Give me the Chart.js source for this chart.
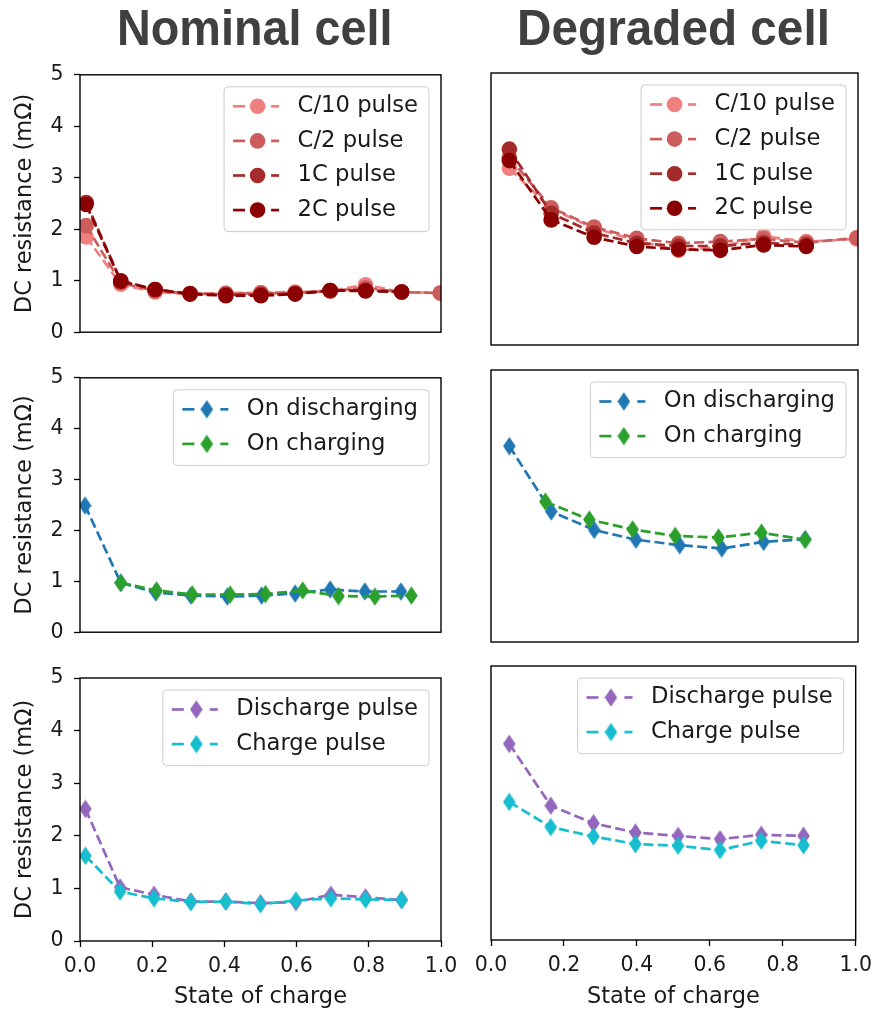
<!DOCTYPE html>
<html><head><meta charset="utf-8">
<script src="https://cdn.jsdelivr.net/npm/chart.js@4.4.0/dist/chart.umd.min.js"></script>
<style>
html,body{margin:0;padding:0;background:#fff;width:879px;height:1011px;overflow:hidden;position:relative;}
canvas{position:absolute;}
.ttl{position:absolute;top:0;left:0;font-family:"Liberation Sans",Arial,sans-serif;font-weight:bold;font-size:50px;line-height:50px;color:#404040;white-space:nowrap;transform-origin:0 0;}
</style></head><body>
<div id="t1" class="ttl"></div>
<div id="t2" class="ttl"></div>
<canvas id="c1"></canvas><canvas id="c2"></canvas>
<canvas id="c3"></canvas><canvas id="c4"></canvas>
<canvas id="c5"></canvas><canvas id="c6"></canvas>
<script>
// ---------- data ----------
const titles = ['Nominal cell', 'Degraded cell'];
const xLabel = 'State of charge';
const yLabel = 'DC resistance (mΩ)';
const xTicks = [0, 0.2, 0.4, 0.6, 0.8, 1.0];
const yTicks = [0, 1, 2, 3, 4, 5];

const pulseLabels = ['C/10 pulse', 'C/2 pulse', '1C pulse', '2C pulse'];
const modeLabels = ['On discharging', 'On charging'];
const polLabels = ['Discharge pulse', 'Charge pulse'];

// Row 1: pulse C-rate
const socNomPulse = [0.017, 0.113, 0.208, 0.305, 0.404, 0.501, 0.596, 0.693, 0.791, 0.891, 0.998];
const nomC10 = [1.85, 0.93, 0.78, 0.74, 0.76, 0.77, 0.78, 0.80, 0.92, 0.78, 0.76];
const nomC2  = [2.07, 0.96, 0.80, 0.75, 0.74, 0.76, 0.76, 0.80, 0.86, 0.78, 0.76];
const nom1C  = [2.52, 1.00, 0.83, 0.75, 0.73, 0.73, 0.75, 0.81, 0.82, 0.78];
const nom2C  = [2.48, 0.99, 0.83, 0.74, 0.71, 0.71, 0.74, 0.81, 0.80, 0.78];
const socDegPulse = [0.050, 0.164, 0.281, 0.397, 0.511, 0.625, 0.743, 0.859, 0.997];
const degC10 = [3.25, 2.50, 2.15, 1.92, 1.74, 1.80, 2.00, 1.90, 1.95];
const degC2  = [3.45, 2.52, 2.17, 1.96, 1.87, 1.90, 1.95, 1.88, 1.97];
const deg1C  = [3.60, 2.42, 2.06, 1.87, 1.82, 1.82, 1.88, 1.84];
const deg2C  = [3.39, 2.30, 1.98, 1.81, 1.76, 1.74, 1.84, 1.81];

// Row 2: discharging vs charging
const socNomDis = [0.014, 0.113, 0.210, 0.307, 0.408, 0.503, 0.596, 0.693, 0.789, 0.889];
const nomDis = [2.49, 0.97, 0.78, 0.72, 0.70, 0.72, 0.76, 0.84, 0.80, 0.80];
const socNomChg = [0.113, 0.212, 0.311, 0.416, 0.514, 0.617, 0.716, 0.817, 0.918];
const nomChg = [0.97, 0.82, 0.74, 0.74, 0.75, 0.82, 0.71, 0.70, 0.72];
const socDegDis = [0.050, 0.164, 0.281, 0.395, 0.514, 0.629, 0.743, 0.856];
const degDis = [3.60, 2.40, 2.06, 1.88, 1.78, 1.72, 1.84, 1.89];
const socDegChg = [0.148, 0.268, 0.386, 0.502, 0.620, 0.737, 0.856];
const degChg = [2.58, 2.25, 2.07, 1.95, 1.92, 2.01, 1.88];

// Row 3: pulse polarity
const socNomPol = [0.015, 0.111, 0.205, 0.307, 0.404, 0.500, 0.598, 0.695, 0.791, 0.891];
const nomDisPulse = [2.51, 1.02, 0.88, 0.75, 0.75, 0.72, 0.74, 0.88, 0.83, 0.78];
const nomChgPulse = [1.62, 0.94, 0.81, 0.74, 0.75, 0.70, 0.77, 0.81, 0.79, 0.78];
const socDegPol = [0.050, 0.164, 0.281, 0.396, 0.513, 0.628, 0.741, 0.857];
const degDisPulse = [3.58, 2.45, 2.13, 1.96, 1.90, 1.84, 1.92, 1.90];
const degChgPulse = [2.52, 2.06, 1.89, 1.75, 1.72, 1.64, 1.81, 1.73];

// ---------- styles ----------
const COL = {
  c10: '#F08080', c2: '#CD5C5C', c1: '#A52A2A', c2c: '#8B0000',
  blue: '#1f77b4', green: '#2ca02c', purple: '#9467bd', cyan: '#17becf'
};
const TXT = '#1a1a1a';
const FONT = 'DejaVu Sans';

function diamondCanvas(color) {
  const w = 13, h = 19;
  const c = document.createElement('canvas'); c.width = w; c.height = h;
  const g = c.getContext('2d');
  g.fillStyle = color;
  g.beginPath(); g.moveTo(w / 2, 0.2); g.lineTo(w - 0.2, h / 2); g.lineTo(w / 2, h - 0.2); g.lineTo(0.2, h / 2); g.closePath(); g.fill();
  return c;
}

function ds(label, xs, ys, color, marker) {
  return {
    label: label,
    data: xs.map((x, i) => ({ x: x, y: ys[i] })),
    borderColor: color, backgroundColor: color,
    borderWidth: 2.7, borderDash: [10, 4.3],
    pointStyle: marker === 'd' ? diamondCanvas(color) : 'circle',
    pointRadius: 7.8, pointHoverRadius: 7.8, pointBorderWidth: 0,
    pointBackgroundColor: color, pointBorderColor: color,
    tension: 0, fill: false, clip: 0,
    mplMarker: marker
  };
}

const mplPlugin = {
  id: 'mpl',
  afterDatasetsDraw(chart) {
    const ctx = chart.ctx, a = chart.chartArea;
    ctx.save();
    ctx.strokeStyle = '#000'; ctx.lineWidth = 1.4; ctx.setLineDash([]);
    ctx.strokeRect(a.left, a.top, a.right - a.left, a.bottom - a.top);
    const dsets = chart.data.datasets;
    ctx.font = '22.7px "' + FONT + '"';
    let tw = 0;
    dsets.forEach(d => { tw = Math.max(tw, ctx.measureText(d.label).width); });
    const rowH = 34.6, topPad = 19.5, botPad = 21.5;
    const bw = 73.5 + tw + 11;
    const bh = topPad + botPad + (dsets.length - 1) * rowH;
    const x0 = a.right - 12 - bw, y0 = a.top + 12;
    ctx.beginPath();
    ctx.roundRect(x0, y0, bw, bh, 4);
    ctx.fillStyle = 'rgba(255,255,255,0.8)'; ctx.fill();
    ctx.strokeStyle = '#cccccc'; ctx.lineWidth = 1; ctx.stroke();
    dsets.forEach((d, i) => {
      const cy = y0 + topPad + i * rowH;
      const lx = x0 + 9;
      ctx.strokeStyle = d.borderColor; ctx.lineWidth = 2.7; ctx.setLineDash([]);
      ctx.beginPath(); ctx.moveTo(lx, cy); ctx.lineTo(lx + 12, cy); ctx.stroke();
      ctx.beginPath(); ctx.moveTo(lx + 38, cy); ctx.lineTo(lx + 46, cy); ctx.stroke();
      const mx = lx + 24.5;
      if (d.mplMarker === 'd') {
        const im = d.pointStyle;
        ctx.drawImage(im, mx - im.width / 2, cy - im.height / 2);
      } else {
        ctx.fillStyle = d.borderColor;
        ctx.beginPath(); ctx.arc(mx, cy, 7.8, 0, Math.PI * 2); ctx.fill();
      }
      ctx.fillStyle = TXT; ctx.textBaseline = 'middle'; ctx.textAlign = 'left';
      ctx.fillText(d.label, x0 + 73.5, cy);
    });
    ctx.restore();
  }
};

function makeChart(id, pos, datasets, leftCol, bottomRow) {
  const cv = document.getElementById(id);
  cv.width = pos.w; cv.height = pos.h;
  cv.style.left = pos.x + 'px'; cv.style.top = pos.y + 'px';
  cv.style.width = pos.w + 'px'; cv.style.height = pos.h + 'px';
  datasets.forEach((d, i) => { d.order = -i; });
  const tickFont = { family: FONT, size: 20.5 };
  const labFont = { family: FONT, size: 22.5 };
  return new Chart(cv, {
    type: 'line',
    data: { datasets: datasets },
    options: {
      responsive: false, animation: false, devicePixelRatio: 1, events: [],
      layout: { padding: pos.pad },
      plugins: { legend: { display: false }, tooltip: { enabled: false } },
      scales: {
        x: {
          type: 'linear', min: 0, max: 1, display: bottomRow,
          afterBuildTicks: s => { s.ticks = xTicks.map(v => ({ value: v })); },
          afterFit: s => { s.height = bottomRow ? pos.xh : 0; },
          grid: { display: true, drawOnChartArea: false, drawTicks: true, tickLength: 6, tickColor: '#000', tickWidth: 1.3, color: '#000' },
          border: { display: false },
          ticks: { font: tickFont, color: TXT, padding: 7, maxRotation: 0, autoSkip: false, callback: v => Number(v).toFixed(1) },
          title: { display: true, text: xLabel, font: labFont, color: TXT, padding: { top: 0, bottom: 0 } }
        },
        y: {
          type: 'linear', min: 0, max: 5, display: leftCol,
          afterBuildTicks: s => { s.ticks = yTicks.map(v => ({ value: v })); },
          afterFit: s => { s.width = leftCol ? 80 : 0; },
          grid: { display: true, drawOnChartArea: false, drawTicks: true, tickLength: 6, tickColor: '#000', tickWidth: 1.3, color: '#000' },
          border: { display: false },
          ticks: { font: tickFont, color: TXT, padding: 10.5, autoSkip: false, callback: v => String(v) },
          title: { display: true, text: yLabel, font: labFont, color: TXT, padding: { top: 11.5, bottom: 0 } }
        }
      }
    },
    plugins: [mplPlugin]
  });
}

const L = { x: 0, w: 465 }, R = { x: 465, w: 414 };
makeChart('c1', { x: L.x, w: L.w, y: 52, h: 303, pad: { left: 0, right: 24, top: 22, bottom: 19 } }, [
  ds(pulseLabels[0], socNomPulse, nomC10, COL.c10, 'o'),
  ds(pulseLabels[1], socNomPulse, nomC2, COL.c2, 'o'),
  ds(pulseLabels[2], socNomPulse, nom1C, COL.c1, 'o'),
  ds(pulseLabels[3], socNomPulse, nom2C, COL.c2c, 'o')
], true, false);
makeChart('c2', { x: R.x, w: R.w, y: 52, h: 303, pad: { left: 26, right: 21, top: 21, bottom: 10 } }, [
  ds(pulseLabels[0], socDegPulse, degC10, COL.c10, 'o'),
  ds(pulseLabels[1], socDegPulse, degC2, COL.c2, 'o'),
  ds(pulseLabels[2], socDegPulse, deg1C, COL.c1, 'o'),
  ds(pulseLabels[3], socDegPulse, deg2C, COL.c2c, 'o')
], false, false);
makeChart('c3', { x: L.x, w: L.w, y: 355, h: 300, pad: { left: 0, right: 24, top: 19, bottom: 17 } }, [
  ds(modeLabels[0], socNomDis, nomDis, COL.blue, 'd'),
  ds(modeLabels[1], socNomChg, nomChg, COL.green, 'd')
], true, false);
makeChart('c4', { x: R.x, w: R.w, y: 355, h: 300, pad: { left: 26, right: 21, top: 15, bottom: 13 } }, [
  ds(modeLabels[0], socDegDis, degDis, COL.blue, 'd'),
  ds(modeLabels[1], socDegChg, degChg, COL.green, 'd')
], false, false);
makeChart('c5', { x: L.x, w: L.w, y: 655, h: 356, xh: 70, pad: { left: 0, right: 24, top: 23, bottom: 0 } }, [
  ds(polLabels[0], socNomPol, nomDisPulse, COL.purple, 'd'),
  ds(polLabels[1], socNomPol, nomChgPulse, COL.cyan, 'd')
], true, true);
makeChart('c6', { x: R.x, w: R.w, y: 655, h: 356, xh: 71, pad: { left: 26, right: 21, top: 11, bottom: 0 } }, [
  ds(polLabels[0], socDegPol, degDisPulse, COL.purple, 'd'),
  ds(polLabels[1], socDegPol, degChgPulse, COL.cyan, 'd')
], false, true);

function placeTitle(id, text, cx, targetW) {
  const el = document.getElementById(id);
  el.textContent = text;
  const w = el.offsetWidth;
  const s = targetW / w;
  el.style.left = (cx - targetW / 2) + 'px';
  el.style.top = '3px';
  el.style.transform = 'scaleX(' + s + ')';
}
placeTitle('t1', titles[0], 255, 276);
placeTitle('t2', titles[1], 673.5, 313);
</script>
</body></html>
